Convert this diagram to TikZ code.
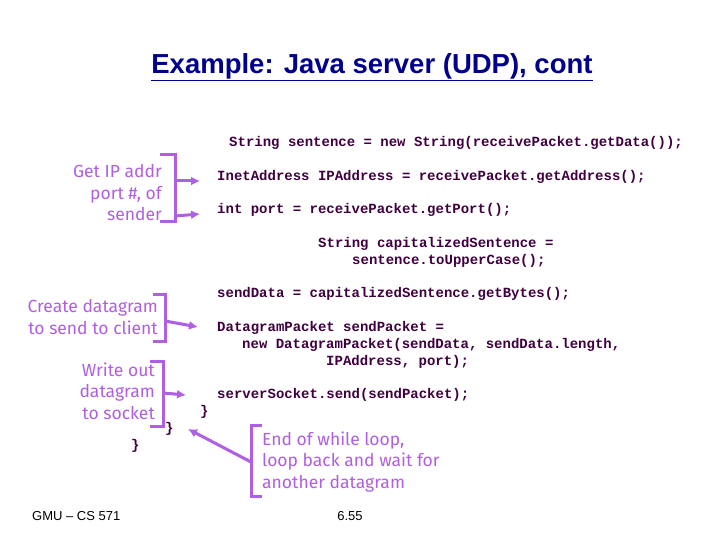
\documentclass[tikz,border=0pt]{standalone}
\usepackage{fontspec}
\setmainfont{Liberation Sans}
\newfontfamily\codefont{Liberation Mono}
\newfontfamily\notefont{Fira Sans}
\usetikzlibrary{arrows.meta}
\definecolor{note}{RGB}{175,95,225}
\definecolor{code}{RGB}{64,0,64}
\definecolor{ttl}{RGB}{0,0,140}
\begin{document}
\begin{tikzpicture}[x=1pt,y=-1pt,
  codetxt/.style={anchor=west,inner sep=0,text=code,font=\codefont\bfseries\fontsize{14}{14}\selectfont},
  notetxt/.style={anchor=east,inner sep=0,text=note,align=right,font=\notefont\fontsize{17.5}{21.5}\selectfont},
  brk/.style={draw=note,line width=3pt},
  arr/.style={draw=note,line width=3pt,-{Latex[length=9pt,width=9pt]}}]
\useasboundingbox[fill=white] (0,0) rectangle (720,540);
\node[inner sep=0,text=ttl,font=\bfseries\fontsize{27.5}{30}\selectfont] (title) at (372,67) {\underline{Example: Java server (UDP), cont}};
\node[codetxt] (c1) at (229,143) {String sentence = new String(receivePacket.getData());};
\node[codetxt] (c2) at (217,177) {InetAddress IPAddress = receivePacket.getAddress();};
\node[codetxt] (c3) at (217,210) {int port = receivePacket.getPort();};
\node[codetxt] (c4) at (318,244) {String capitalizedSentence =};
\node[codetxt] (c5) at (352,261) {sentence.toUpperCase();};
\node[codetxt] (c6) at (217,294) {sendData = capitalizedSentence.getBytes();};
\node[codetxt] (c7) at (217,328) {DatagramPacket sendPacket =};
\node[codetxt] (c8) at (242,345) {new DatagramPacket(sendData, sendData.length,};
\node[codetxt] (c9) at (326,362) {IPAddress, port);};
\node[codetxt] (c10) at (217,395) {serverSocket.send(sendPacket);};
\node[codetxt] (b1) at (200,412) {\}};
\node[codetxt] (b2) at (165,429) {\}};
\node[codetxt] (b3) at (131,446) {\}};
% notes
\node[notetxt] (n1) at (162,193) {Get IP addr\\port \#, of\\sender};
\draw[brk] (160,155) -- (175,155) -- (175,222) -- (160,222);
\coordinate (n1a) at (175,181); \coordinate (n1b) at (175,216);
\coordinate (t1) at (200,181); \coordinate (t2) at (200,214);
\draw[arr] (n1a) -- (t1);
\draw[arr] (n1b) -- (t2);
\node[notetxt] (n2) at (158,317) {Create datagram\\to send to client};
\draw[brk] (153,294) -- (165,294) -- (165,341) -- (153,341);
\coordinate (n2a) at (165,321); \coordinate (t3) at (198,327);
\draw[arr] (n2a) -- (t3);
\node[notetxt] (n3) at (155,391) {Write out\\datagram\\to socket};
\draw[brk] (150,361) -- (163,361) -- (163,426) -- (150,426);
\coordinate (n3a) at (163,393); \coordinate (t4) at (186,395);
\draw[arr] (n3a) -- (t4);
\node[notetxt,anchor=west,align=left] (n4) at (262,462) {End of while loop,\\loop back and wait for\\another datagram};
\draw[brk] (262,425) -- (251,425) -- (251,496) -- (262,496);
\coordinate (n4a) at (251,462); \coordinate (t5) at (188,429);
\draw[arr] (n4a) -- (t5);
\node[inner sep=0,anchor=west,font=\fontsize{13}{15}\selectfont] (f1) at (32,516) {GMU -- CS 571};
\node[inner sep=0,font=\fontsize{13}{15}\selectfont] (f2) at (350,516) {6.55};
\end{tikzpicture}
\end{document}
